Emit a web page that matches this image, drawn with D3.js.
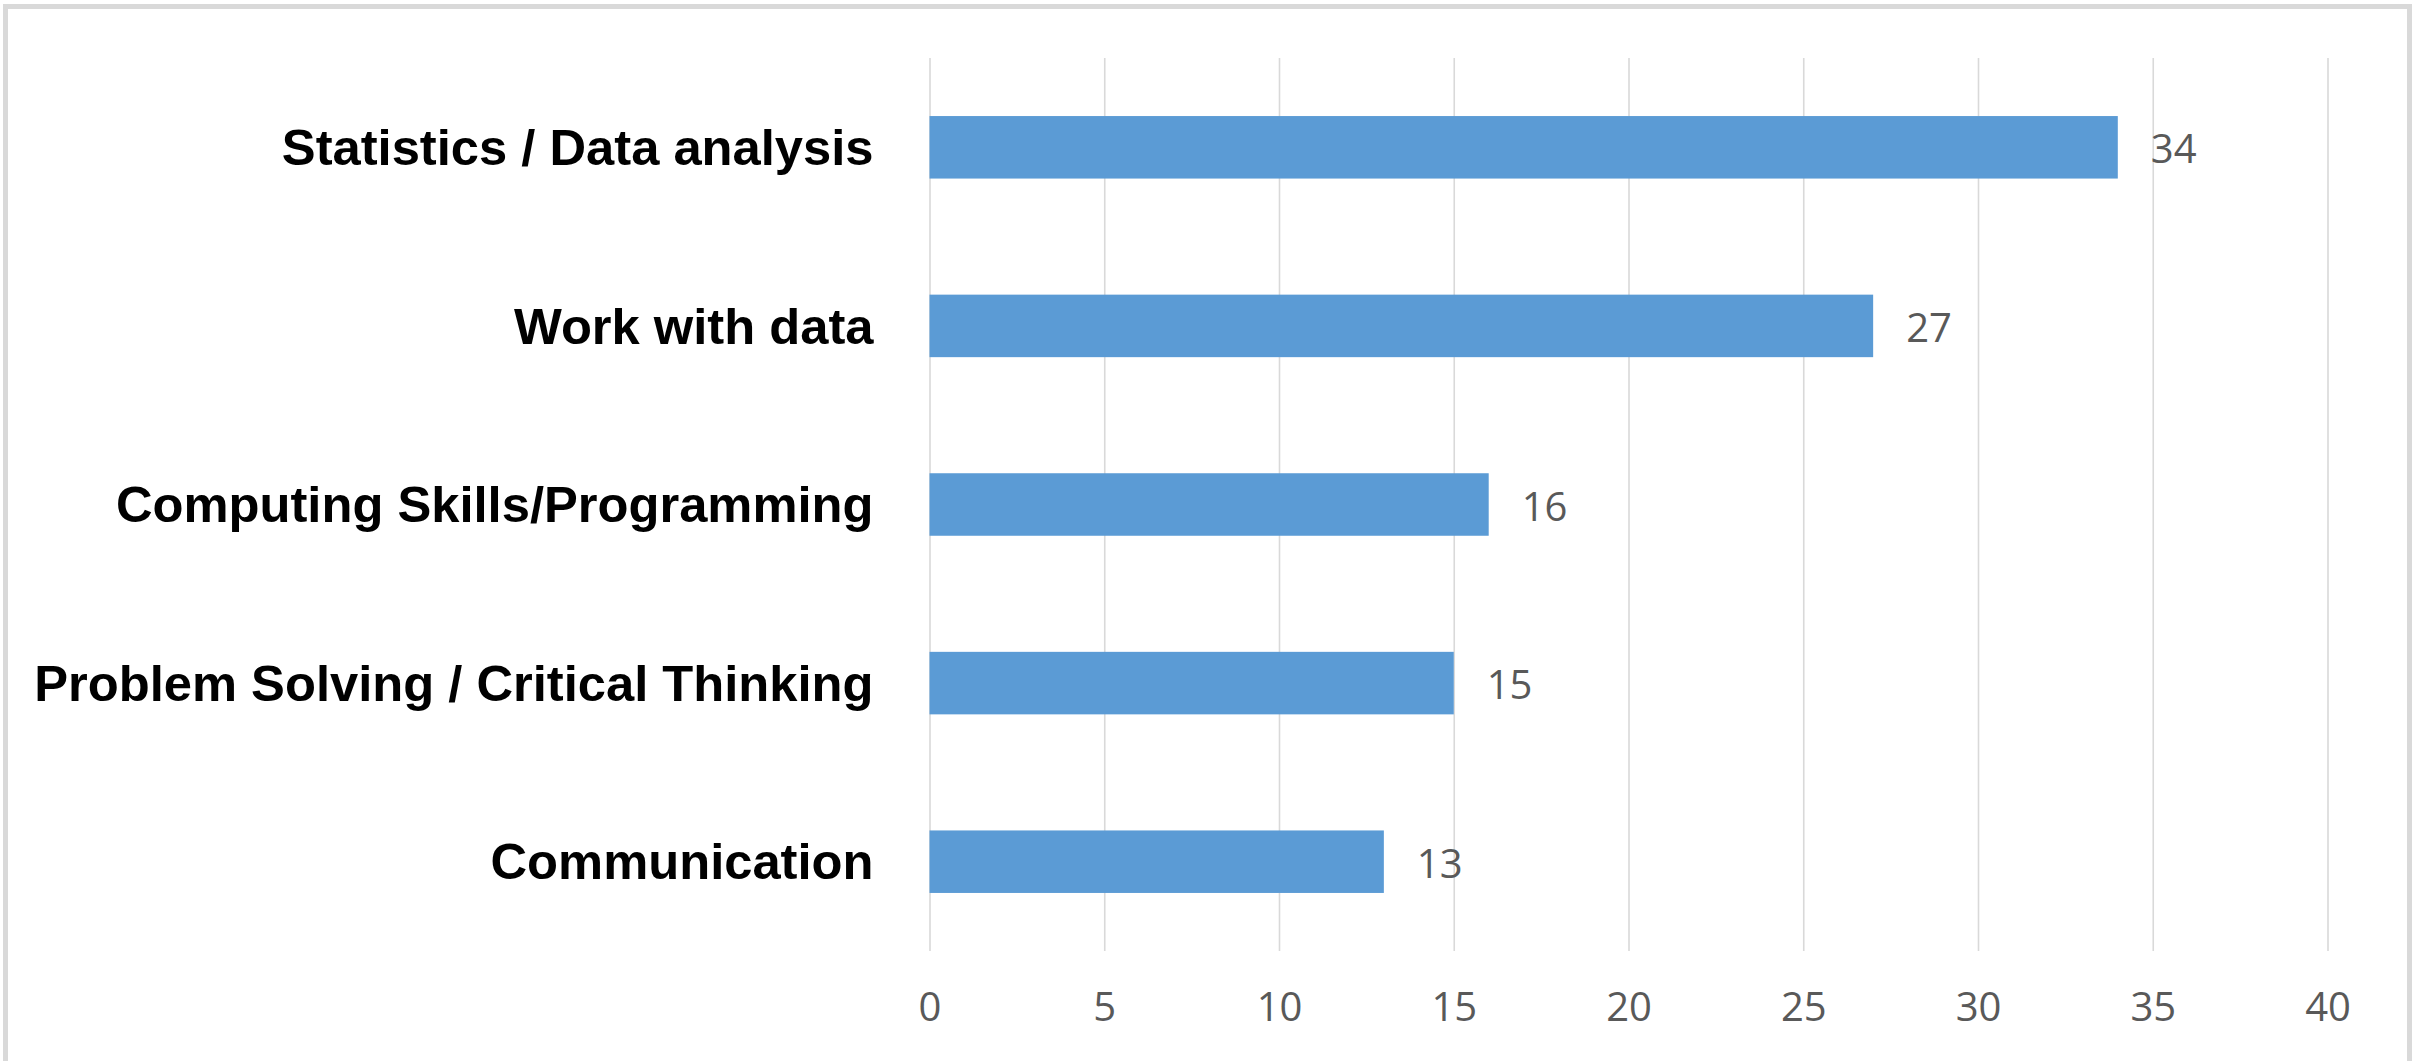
<!DOCTYPE html>
<html>
<head>
<meta charset="utf-8">
<script src="https://cdn.jsdelivr.net/npm/d3@7/dist/d3.min.js"></script>
<style>
  html, body { margin: 0; padding: 0; background: #ffffff; }
  svg { display: block; }
</style>
</head>
<body>
<script>
// ---- data ----
const categories = [
  "Statistics / Data analysis",
  "Work with data",
  "Computing Skills/Programming",
  "Problem Solving / Critical Thinking",
  "Communication"
];
const values = [34, 27, 16, 15, 13];
const xTicks = [0, 5, 10, 15, 20, 25, 30, 35, 40];

// ---- layout ----
const W = 2425, H = 1061;
const plot = { left: 929.5, right: 2327.5, top: 58, bottom: 951 };

const svg = d3.select("body").append("svg")
  .attr("width", W).attr("height", H);

svg.append("rect").attr("width", W).attr("height", H).attr("fill", "#ffffff");

// outer frame
svg.append("rect")
  .attr("x", 5.5).attr("y", 6.5)
  .attr("width", 2404).attr("height", 1100)
  .attr("fill", "none")
  .attr("stroke", "#d9d9d9")
  .attr("stroke-width", 5);

const x = d3.scaleLinear().domain([0, 40]).range([plot.left, plot.right]);
const y = d3.scaleBand().domain(categories)
  .range([plot.top, plot.bottom])
  .paddingInner(0.65).paddingOuter(0.325);

// gridlines + x tick labels
const xAxis = svg.append("g")
  .attr("transform", `translate(0,${plot.bottom})`)
  .call(d3.axisBottom(x).tickValues(xTicks).tickSizeInner(-(plot.bottom - plot.top)).tickSizeOuter(0).tickPadding(0));
xAxis.select(".domain").remove();
xAxis.selectAll(".tick line")
  .attr("stroke", "#d9d9d9").attr("stroke-width", 1.6);
xAxis.selectAll(".tick text")
  .attr("y", 56).attr("dy", "0.35em")
  .attr("fill", "#595959")
  .style("font-family", "'Open Sans', 'Liberation Sans', sans-serif")
  .style("font-size", "40px");

// category axis
const yAxis = svg.append("g")
  .attr("transform", `translate(${plot.left},0)`)
  .call(d3.axisLeft(y).tickSize(0).tickPadding(56));
yAxis.select(".domain").remove();
yAxis.selectAll(".tick text")
  .attr("fill", "#000000")
  .attr("dy", "0.35em")
  .style("font-family", "'Liberation Sans', Arial, sans-serif")
  .style("font-weight", "bold")
  .style("font-size", "50.7px");

// bars
svg.append("g").selectAll("rect")
  .data(categories)
  .join("rect")
  .attr("x", x(0))
  .attr("y", d => y(d))
  .attr("width", (d, i) => x(values[i]) - x(0))
  .attr("height", y.bandwidth())
  .attr("fill", "#5b9bd5");

// data labels
svg.append("g").selectAll("text")
  .data(categories)
  .join("text")
  .attr("x", (d, i) => x(values[i]) + 33)
  .attr("y", d => y(d) + y.bandwidth() / 2 + 2)
  .attr("dy", "0.35em")
  .attr("fill", "#595959")
  .style("font-family", "'Open Sans', 'Liberation Sans', sans-serif")
  .style("font-size", "40px")
  .text((d, i) => values[i]);
</script>
</body>
</html>
